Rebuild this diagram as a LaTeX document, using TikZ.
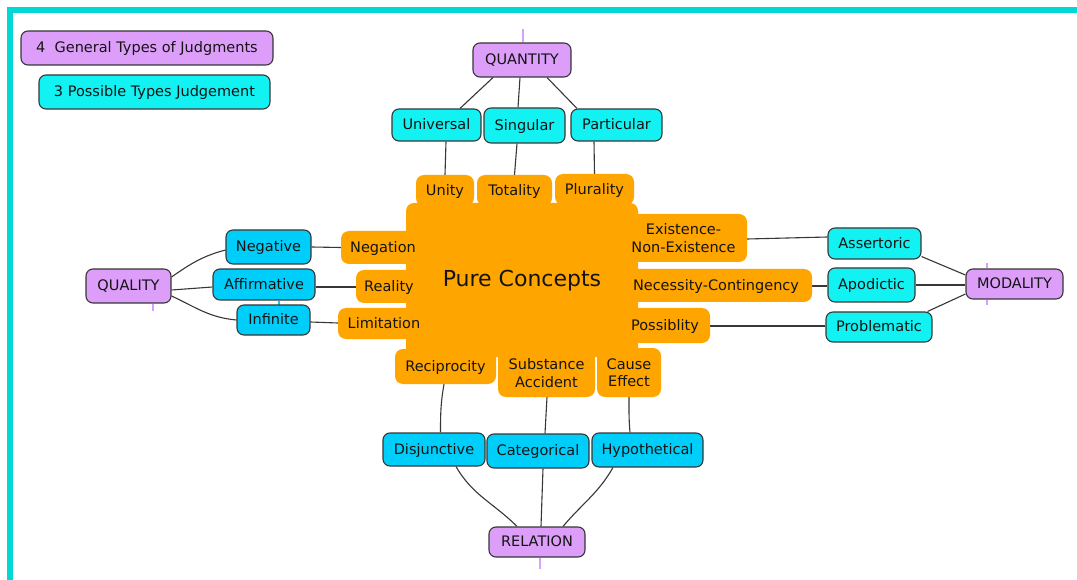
\documentclass[tikz,border=0pt]{standalone}
\usepackage{fontspec}
\setmainfont{DejaVu Sans}
\usetikzlibrary{calc}
\definecolor{lav}{RGB}{221,158,250}
\definecolor{cyanbox}{RGB}{18,242,242}
\definecolor{skybox}{RGB}{0,206,250}
\definecolor{orng}{RGB}{255,165,0}
\definecolor{framecol}{RGB}{0,216,216}
\definecolor{edgecol}{RGB}{55,55,55}
\definecolor{ink}{RGB}{20,20,20}
\newcommand\fs{\fontsize{14.5}{17.5}\selectfont}
\pgfdeclarelayer{bg}
\pgfsetlayers{bg,main}
\tikzset{
 base/.style={inner sep=0pt, rounded corners=7pt, font=\fs, text=ink, align=center},
 one/.style={text height=10.5pt, text depth=1pt},
 outl/.style={draw=edgecol, line width=1.1pt},
 lavbox/.style={base, one, outl, fill=lav},
 cybox/.style={base, one, outl, fill=cyanbox},
 skbox/.style={base, one, outl, fill=skybox},
 orbox/.style={base, fill=orng, rounded corners=8pt},
 conn/.style={draw=edgecol, line width=1.1pt},
 lavtick/.style={draw=lav, line width=2pt},
 skytick/.style={draw=skybox, line width=2pt},
 sz/.style 2 args={minimum width=#1pt, minimum height=#2pt},
}
\begin{document}
\begin{tikzpicture}[x=1pt,y=-1pt]
\useasboundingbox (0,0) rectangle (1077,580);
% legend
\node[lavbox, sz={252}{34}] (gen) at (147,48) {4\ \ General Types of Judgments};
\node[cybox, sz={231}{34}] (pos) at (154.5,92) {3 Possible Types Judgement};
% quantity
\node[lavbox, sz={98}{34}] (qty) at (522,60) {QUANTITY};
\node[cybox, sz={89}{32}] (uni) at (436.5,125) {Universal};
\node[cybox, sz={81}{35}] (sing) at (524.5,125.5) {Singular};
\node[cybox, sz={91}{32}] (part) at (616.5,125) {Particular};
% central
\node[orbox, sz={232}{154}, font=\fontsize{22}{26}\selectfont, text height=16pt, text depth=3pt] (pc) at (522,280) {Pure Concepts};
\node[orbox, one, sz={58}{31}] (unity) at (445,190.5) {Unity};
\node[orbox, one, sz={75}{31}] (tot) at (514.5,190.5) {Totality};
\node[orbox, one, sz={79}{31}] (plur) at (594.5,189.5) {Plurality};
\node[orbox, one, sz={84}{33}] (neg) at (383,247.5) {Negation};
\node[orbox, one, sz={66}{33}] (real) at (389,286.5) {Reality};
\node[orbox, one, sz={92}{31}] (lim) at (384,323.5) {Limitation};
\node[orbox, sz={127}{48}] (exist) at (683.5,238) {Existence-\\Non-Existence};
\node[orbox, one, sz={192}{33}] (nec) at (716,285.5) {Necessity-Contingency};
\node[orbox, one, sz={90}{35}] (poss) at (665,325.5) {Possiblity};
\node[orbox, one, sz={101}{35}] (recip) at (445.5,366.5) {Reciprocity};
\node[orbox, sz={97}{48}] (subst) at (546.5,373) {Substance\\Accident};
\node[orbox, sz={64}{49}] (cause) at (629,372.5) {Cause\\Effect};
% quality
\node[skbox, sz={85}{34}] (negv) at (268.5,247) {Negative};
\node[skbox, sz={102}{31}] (aff) at (264,284.5) {Affirmative};
\node[skbox, sz={73}{30}] (inf) at (273.5,320) {Infinite};
\node[lavbox, sz={85}{34}] (qual) at (128.5,286) {QUALITY};
% modality
\node[cybox, sz={93}{31}] (asser) at (874.5,243.5) {Assertoric};
\node[cybox, sz={87}{34}] (apod) at (871.5,285) {Apodictic};
\node[cybox, sz={106}{30}] (prob) at (879,327) {Problematic};
\node[lavbox, sz={97}{30}] (mod) at (1014.5,284) {MODALITY};
% relation
\node[skbox, sz={102}{33}] (disj) at (434,449.5) {Disjunctive};
\node[skbox, sz={102}{34}] (cat) at (538,451) {Categorical};
\node[skbox, sz={111}{34}] (hyp) at (647.5,450) {Hypothetical};
\node[lavbox, sz={96}{30}] (rel) at (537,542) {RELATION};

\begin{pgfonlayer}{bg}
\fill[white] (0,0) rectangle (1077,580);
\fill[framecol] (7,7) rectangle (1077,13);
\fill[framecol] (7,7) rectangle (13,580);
% quantity
\draw[conn] ([xshift=-29pt]qty.south) -- ([xshift=23.5pt]uni.north);
\draw[conn] ([xshift=-2pt]qty.south) -- ([xshift=-6.5pt]sing.north);
\draw[conn] ([xshift=25pt]qty.south) -- ([xshift=-39.5pt]part.north);
\draw[conn] ([xshift=9.5pt]uni.south) -- (unity.north);
\draw[conn] ([xshift=-7.5pt]sing.south) -- (tot.north);
\draw[conn] ([xshift=-22.5pt]part.south) -- (plur.north);
% quality
\draw[conn] ([yshift=9pt]qual.east) to[out=35,in=195] ([yshift=-3pt]negv.west);
\draw[conn] ([yshift=-4pt]qual.east) -- ([yshift=-2.5pt]aff.west);
\draw[conn] ([yshift=-10pt]qual.east) to[out=-25,in=175] (inf.west);
\draw[conn] (negv.east) -- (neg.west);
\draw[conn] ([yshift=-2.5pt]aff.east) -- ([yshift=-0.5pt]real.west);
\draw[conn] ([yshift=-2pt]inf.east) -- ([yshift=0.5pt]lim.west);
% modality
\draw[conn] ([yshift=-1pt]exist.east) -- ([yshift=6.5pt]asser.west);
\draw[conn] ([yshift=-0.5pt]nec.east) -- ([yshift=-1pt]apod.west);
\draw[conn] ([yshift=-0.5pt]poss.east) -- ([yshift=1pt]prob.west);
\draw[conn] ([yshift=3pt]asser.south east) -- ([yshift=9pt]mod.west);
\draw[conn] (apod.east) -- ([yshift=-1pt]mod.west);
\draw[conn] ([xshift=-5pt]prob.north east) -- ([yshift=-10pt]mod.west);
% relation
\draw[conn] ([xshift=-1.5pt]recip.south) to[out=-100,in=90] ([xshift=6.5pt]disj.north);
\draw[conn] ([xshift=0.5pt]subst.south) -- ([xshift=7pt]cat.north);
\draw[conn] (cause.south) to[out=-90,in=95] ([xshift=-17.5pt]hyp.north);
\draw[conn] ([xshift=22pt]disj.south) to[out=-60,in=135] ([xshift=-20pt]rel.north);
\draw[conn] ([xshift=5pt]cat.south) -- ([xshift=4pt]rel.north);
\draw[conn] ([xshift=-34.5pt]hyp.south) to[out=-120,in=50] ([xshift=26pt]rel.north);
% ticks
\draw[lavtick] ([xshift=1pt]qty.north) -- ++(0,-13);
\draw[lavtick] ([xshift=24.5pt]qual.south) -- ++(0,7);
\draw[lavtick] ([xshift=-27.5pt]mod.north) -- ++(0,-5);
\draw[lavtick] ([xshift=-27.5pt]mod.south) -- ++(0,5);
\draw[lavtick] ([xshift=3pt]rel.south) -- ++(0,11);
\draw[skytick] ([xshift=15pt]aff.south) -- ++(0,5);
\end{pgfonlayer}
\end{tikzpicture}
\end{document}
